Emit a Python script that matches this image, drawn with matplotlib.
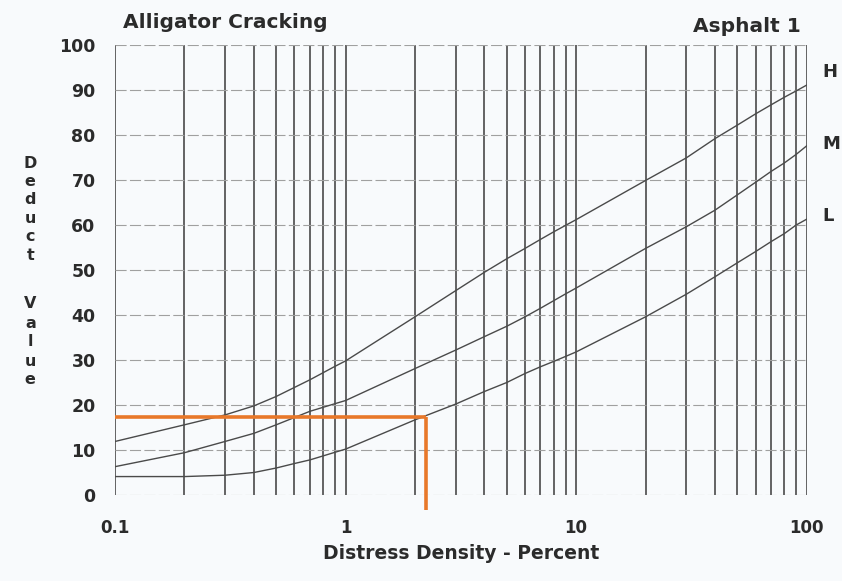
import matplotlib.pyplot as plt
from matplotlib.ticker import LogLocator, FixedLocator, NullFormatter, FixedFormatter
import numpy as np

plt.rcParams['font.family'] = ['DejaVu Sans']

# Curve readings (distress density %, deduct value)
high_x = [0.1, 0.2, 0.3, 0.4, 0.5, 0.7, 0.9, 1, 2, 3, 4, 5, 6, 7, 8, 10,
          20, 30, 40, 50, 60, 70, 80, 90, 100]
high_y = [11.9, 15.6, 17.8, 19.8, 21.9, 25.6, 28.6, 29.8, 39.6, 45.4, 49.5, 52.5, 54.8,
          56.8, 58.5, 61.2, 69.9, 74.9, 79.2, 82.2, 84.7, 86.7, 88.4, 89.8, 91.1]

med_x = [0.1, 0.2, 0.3, 0.4, 0.5, 0.7, 0.8, 0.9, 1, 2, 3, 4, 5, 6, 7, 8, 9, 10,
         20, 30, 40, 50, 60, 70, 80, 90, 100]
med_y = [6.3, 9.4, 11.9, 13.7, 15.6, 18.6, 19.5, 20.3, 21, 28.1, 32.2, 35.2, 37.5, 39.6,
         41.5, 43.2, 44.7, 46.0, 54.8, 59.6, 63.3, 66.7, 69.5, 71.9, 73.8, 75.7, 77.6]

low_x = [0.1, 0.2, 0.3, 0.4, 0.5, 0.6, 0.7, 0.8, 0.9, 1, 2, 3, 4, 5, 6, 7, 8, 9, 10,
         20, 30, 40, 50, 60, 70, 80, 90, 100]
low_y = [4.1, 4.1, 4.4, 5.0, 6.0, 7.0, 7.8, 8.7, 9.5, 10.2, 16.7, 20.2, 23, 25, 27, 28.5,
         29.7, 30.8, 31.8, 39.6, 44.6, 48.5, 51.6, 54.1, 56.3, 58.1, 60, 61.3]

curve_labels = ['H', 'M', 'L']
label_y = [94, 78, 62]

# Reading example: density 2.2 % -> deduct value 17.4
read_x = 2.23
read_y = 17.4

x_ticks = [0.1, 1, 10, 100]
x_tick_labels = ['0.1', '1', '10', '100']
y_ticks = list(range(0, 101, 10))

txt = '#2b2b2b'
fig = plt.figure(figsize=(8.42, 5.81), dpi=100, facecolor='#f8fafc')
ax = fig.add_axes([0.1366, 0.148, 0.8215, 0.7745])
ax.set_facecolor('#f8fafc')
ax.set_xscale('log')
ax.set_xlim(0.1, 100)
ax.set_ylim(0, 100)

ax.xaxis.set_major_locator(FixedLocator(x_ticks))
ax.xaxis.set_major_formatter(FixedFormatter(x_tick_labels))
ax.xaxis.set_minor_locator(LogLocator(base=10, subs=np.arange(2, 10)))
ax.xaxis.set_minor_formatter(NullFormatter())
ax.set_yticks(y_ticks)

ax.grid(True, which='both', axis='x', color='#3a3a3a', lw=1.1)
ax.grid(True, which='major', axis='y', color='#a0a0a0', lw=0.8, ls=(0, (10, 3)))
ax.tick_params(axis='x', which='both', length=0, pad=17, labelsize=12, colors=txt)
ax.tick_params(axis='y', which='both', length=0, pad=14, labelsize=12.5, colors=txt)
for lbl in ax.get_xticklabels() + ax.get_yticklabels():
    lbl.set_fontweight('bold')
for s in ax.spines.values():
    s.set_visible(False)

for xs, ys in [(high_x, high_y), (med_x, med_y), (low_x, low_y)]:
    ax.plot(xs, ys, color='#4a4a4a', lw=1.0)

for name, yv in zip(curve_labels, label_y):
    ax.text(1.022, yv / 100, name, transform=ax.transAxes, fontsize=13,
            fontweight='bold', color=txt, va='center', ha='left')

orange = '#e8782a'
ax.plot([0.1, read_x], [read_y, read_y], color=orange, lw=2.6, clip_on=False,
        solid_capstyle='butt')
ax.plot([read_x, read_x], [read_y, -3.4], color=orange, lw=2.6, clip_on=False,
        solid_capstyle='butt')

fig.text(0.146, 0.962, 'Alligator Cracking', fontsize=14.5, fontweight='bold',
         color=txt, va='center', ha='left')
fig.text(0.951, 0.955, 'Asphalt 1', fontsize=14.5, fontweight='bold',
         color=txt, va='center', ha='right')
fig.text(0.548, 0.048, 'Distress Density - Percent', fontsize=13.5,
         fontweight='bold', color=txt, va='center', ha='center')

# Stacked vertical y label
word1 = 'Deduct'
word2 = 'Value'
for i, ch in enumerate(word1):
    fig.text(0.036, 1 - (163 + i * 18.4) / 581, ch, fontsize=11.5, fontweight='bold',
             color=txt, ha='center', va='center')
for i, ch in enumerate(word2):
    fig.text(0.036, 1 - (304 + i * 19.0) / 581, ch, fontsize=11.5,
             fontweight='bold', color=txt, ha='center', va='center')

fig.savefig('out.png', dpi=100, facecolor=fig.get_facecolor())
